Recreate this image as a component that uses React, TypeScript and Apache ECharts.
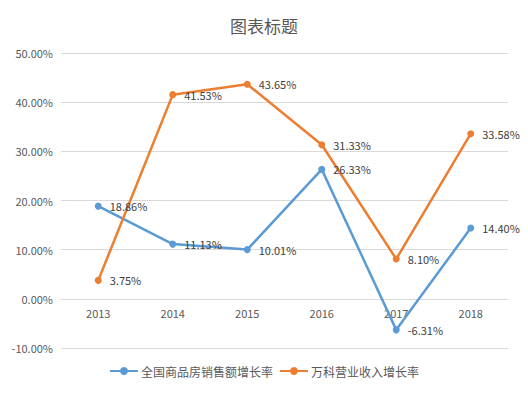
import React, { useEffect, useRef } from "react";
import * as echarts from "echarts";

const categories = ["2013", "2014", "2015", "2016", "2017", "2018"];
const nationalSales = [18.86, 11.13, 10.01, 26.33, -6.31, 14.4];
const vankeRevenue = [3.75, 41.53, 43.65, 31.33, 8.1, 33.58];
const seriesNames = ["全国商品房销售额增长率", "万科营业收入增长率"];
const titleText = "图表标题";

const FONT = "'Noto Sans CJK SC', 'Noto Sans', sans-serif";
const GRID_TOP = 53;
const GRID_BOTTOM = 49;
const CHART_H = 397;
const Y_MIN = -10;
const Y_MAX = 50;

export default function App() {
  const ref = useRef<HTMLDivElement>(null);
  useEffect(() => {
    document.body.style.margin = "0";
    const chart = echarts.init(ref.current!, undefined, { renderer: "svg" });
    const label = {
      show: true,
      position: "right" as const,
      distance: 8,
      color: "#404040",
      fontSize: 11,
      fontFamily: FONT,
      formatter: (p: any) => p.value.toFixed(2) + "%",
    };
    const gridH = CHART_H - GRID_TOP - GRID_BOTTOM;
    const zeroOffset = -(gridH * (0 - Y_MIN)) / (Y_MAX - Y_MIN);
    chart.setOption({
      animation: false,
      backgroundColor: "#ffffff",
      title: {
        text: titleText,
        left: "center",
        top: 12,
        textStyle: { fontSize: 17, fontWeight: "normal", color: "#595959", fontFamily: FONT },
      },
      legend: {
        bottom: 15,
        left: "center",
        itemWidth: 28,
        itemHeight: 10,
        itemGap: 6,
        textStyle: { fontSize: 12, color: "#595959", fontFamily: FONT, padding: [0, 0, 0, -2] },
        data: seriesNames,
      },
      grid: { left: 61, right: 20, top: GRID_TOP, bottom: GRID_BOTTOM },
      xAxis: {
        type: "category",
        data: categories,
        boundaryGap: true,
        offset: zeroOffset,
        axisLine: { onZero: false, lineStyle: { color: "#d9d9d9" } },
        axisTick: { show: false },
        axisLabel: { color: "#595959", fontSize: 11, fontFamily: FONT, margin: 9 },
      },
      yAxis: {
        type: "value",
        min: Y_MIN,
        max: Y_MAX,
        interval: 10,
        axisLine: { show: false },
        axisTick: { show: false },
        splitLine: { lineStyle: { color: "#d9d9d9" } },
        axisLabel: {
          color: "#595959",
          fontSize: 11,
          fontFamily: FONT,
          margin: 8,
          formatter: (v: number) => v.toFixed(2) + "%",
        },
      },
      series: [
        {
          name: seriesNames[0],
          type: "line",
          data: nationalSales,
          color: "#5B9BD5",
          lineStyle: { width: 2.5 },
          symbol: "circle",
          symbolSize: 7,
          label,
        },
        {
          name: seriesNames[1],
          type: "line",
          data: vankeRevenue,
          color: "#ED7D31",
          lineStyle: { width: 2.5 },
          symbol: "circle",
          symbolSize: 7,
          label,
        },
      ],
    });
    return () => chart.dispose();
  }, []);
  return (
    <div style={{ position: "absolute", left: 0, top: 0, width: 528, height: 397, background: "#fff" }}>
      <div
        style={{
          position: "absolute",
          left: 5,
          top: 3,
          width: 516,
          height: 389,
          border: "1px solid #d9d9d9",
          boxSizing: "border-box",
        }}
      />
      <div ref={ref} style={{ position: "absolute", left: 0, top: 0, width: 528, height: 397 }} />
    </div>
  );
}
